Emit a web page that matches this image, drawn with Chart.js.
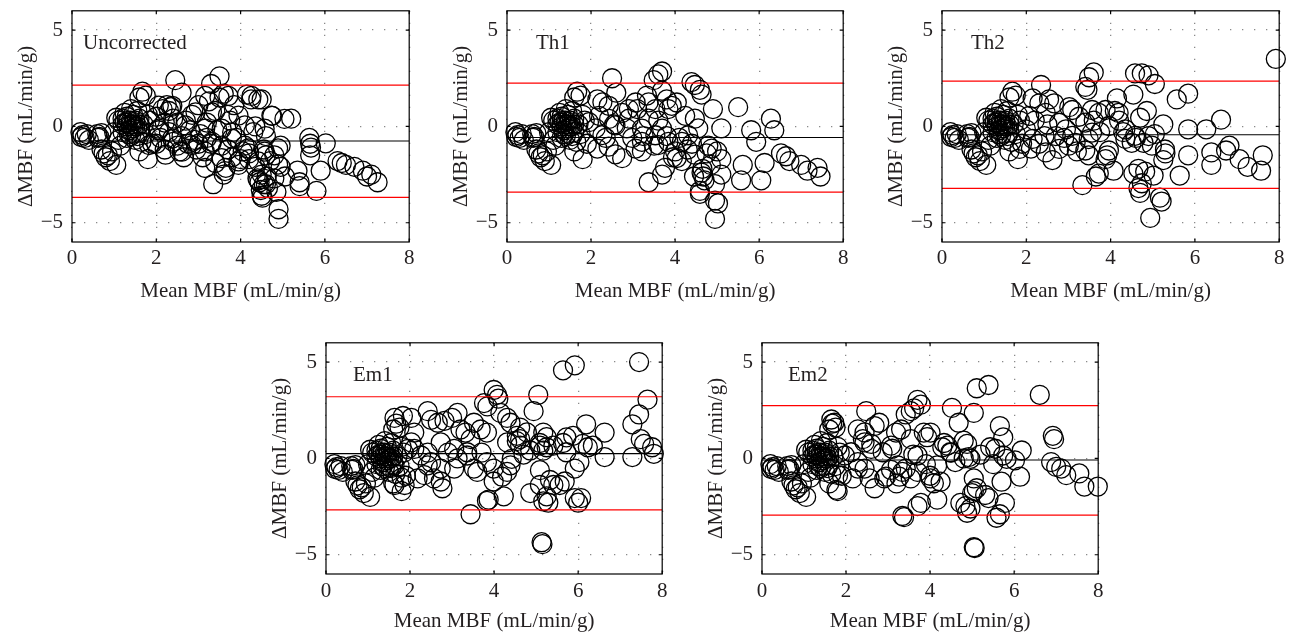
<!DOCTYPE html>
<html><head><meta charset="utf-8">
<script src="https://cdn.jsdelivr.net/npm/chart.js@4.4.1/dist/chart.umd.min.js"></script>
<style>
html,body{margin:0;padding:0;background:#fff;overflow:hidden;width:1293px;height:637px;}
canvas{position:absolute;}
</style></head><body>
<canvas id="c1"></canvas><canvas id="c2"></canvas><canvas id="c3"></canvas><canvas id="c4"></canvas><canvas id="c5"></canvas>
<script>
// ---------- DATA ----------
const xTicks=[0,2,4,6,8];
const yTicks=[-5,0,5];
const xRange=[0,8];
const yRange=[-6,6];
const panelNames=['Uncorrected','Th1','Th2','Em1','Em2'];
const upperLimits=[2.14,2.25,2.35,3.2,2.74];
const meanBias=[-0.76,-0.58,-0.43,0.25,-0.08];
const lowerLimits=[-3.68,-3.41,-3.22,-2.67,-2.94];
const xTitle='Mean MBF (mL/min/g)';
const yTitle='\u0394MBF (mL/min/g)';

// low-flow points (x < 2), nearly the same in every panel
const lowFlow=[[0.2,-0.3],[0.25,-0.45],[0.3,-0.6],[0.35,-0.4],[0.22,-0.55],[0.4,-0.7],
[0.6,-0.4],[0.65,-0.55],[0.7,-0.35],[0.62,-0.6],
[0.7,-1.2],[0.75,-1.4],[0.8,-1.6],[0.85,-1.5],[0.9,-1.8],[1.05,-2.0],[0.95,-1.3],
[1.05,0.45],[1.1,0.3],[1.0,-0.3],[1.1,-0.7],[1.15,-1.0],[1.2,0.1],[1.2,-0.3],
[1.25,0.2],[1.3,0.0],[1.3,0.5],[1.35,-0.2],[1.35,0.3],[1.4,0.1],[1.4,-0.5],[1.45,0.6],[1.45,-0.1],[1.5,0.3],[1.5,-0.7],[1.55,0.0],[1.55,0.8],[1.6,-0.3],[1.6,0.4],[1.65,-0.8],[1.3,-0.6],[1.25,0.7],[1.4,0.9],[1.7,0.1],[1.75,-0.4],[1.8,0.6],[1.85,0.3],
[1.3,0.2],[1.4,0.3],[1.45,0.1],[1.5,0.0],[1.35,-0.4],[1.55,-0.5],[1.2,0.4],[1.6,0.1],
[1.67,1.8],[1.75,1.6],[1.6,1.5],
[1.6,-1.3],[1.8,-1.7],[1.9,-0.9]];

const uncorrected=[[2.0,0.5],[2.05,-0.2],[2.1,-0.6],[2.15,0.9],[2.2,-1.2],[2.25,1.1],[2.3,0.8],[2.35,1.0],[2.4,0.4],[2.45,2.4],[2.3,-0.3],[2.4,-0.8],[2.5,-1.0],[2.5,0.2],[2.55,-1.3],[2.6,1.75],[2.6,-0.5],[2.65,-1.6],[2.7,0.3],[2.75,-0.9],[2.8,-0.2],[2.9,-0.7],[2.85,0.6],[2.95,-1.2],[2.2,0.2],[2.0,-0.9],
[3.0,1.1],[3.05,-0.4],[3.1,-1.6],[3.15,-1.3],[3.2,0.2],[3.25,1.3],[3.3,2.2],[3.3,-0.9],[3.35,-3.0],[3.4,0.8],[3.45,-0.2],[3.5,2.6],[3.5,1.5],[3.55,-1.0],[3.6,-2.5],[3.65,-2.15],[3.6,1.7],[3.7,0.6],[3.7,-1.2],[3.75,0.3],[3.8,-1.6],[3.85,1.1],[3.9,-0.6],[3.95,-2.0],[3.0,-0.9],[3.2,-0.6],[3.4,-1.9],[3.8,-0.3],
[4.05,-1.3],[4.1,-1.0],[4.15,1.65],[4.2,-1.7],[4.25,1.4],[4.3,-0.3],[4.35,-2.1],[4.35,0.0],[4.4,-2.7],[4.45,-2.9],[4.5,1.4],[4.5,-3.6],[4.55,-3.0],[4.55,-1.2],[4.6,-0.5],[4.65,-3.2],[4.7,-1.8],[4.75,0.55],[4.8,-1.5],[4.8,-2.7],[4.85,-3.4],[4.9,-4.3],[4.9,-4.8],[4.95,-1.0],[4.95,-2.1],[4.0,-1.7],[4.2,-1.4],[4.6,-1.5],[4.5,-2.5],[4.42,-2.8],[4.48,-3.3],[4.52,-3.7],[4.6,-3.0],[4.62,-2.6],
[5.2,0.4],[5.35,-2.3],[5.4,-3.1],[5.63,-0.6],[5.65,-0.9],[5.67,-1.1],[5.65,-1.5],[5.8,-3.35],[5.9,-2.3],[6.02,-0.88],[6.3,-1.8],[6.4,-1.9],[6.5,-2.0],[6.7,-2.1],[6.9,-2.3],[7.0,-2.6],[7.1,-2.5],[7.25,-2.9],[5.05,-2.6],[5.4,-2.9],
[2.38,1.07],[2.06,1.08],[3.16,1.58],[3.71,1.58],[4.26,1.58],[4.42,1.4],[4.73,0.56],[5.04,0.39],[2.93,0.73],[3.32,0.73],[3.95,0.56],[2.69,0.05],[3.16,-0.12],[3.55,-0.12],[4.1,0.05],[4.57,-0.12],[2.06,-0.12],[2.38,-0.63],[2.85,-0.97],[3.32,-0.8],[3.79,-0.63],[4.18,-1.14],[4.57,-1.31],[4.89,-1.14],[1.83,-0.97],[2.22,-1.47],[2.61,-1.31],[3.55,-1.65],[3.95,-1.82],[4.42,-1.82],[4.89,-1.98],[3.16,-2.16],[3.63,-2.32]];

const th1=[[3.69,2.85],[3.6,2.7],[2.5,2.5],[3.49,2.4],[4.39,2.3],[4.47,2.15],[4.59,1.9],[4.63,1.65],[2.6,1.75],[3.33,1.6],[3.69,1.85],[3.8,1.4],[3.84,0.9],[3.92,1.07],[4.04,1.24],[4.9,0.9],[5.5,1.0],[6.28,0.4],[6.36,-0.2],[5.81,-0.2],[5.93,-0.8],[5.1,-0.1],[6.52,-1.4],[6.64,-1.55],[6.72,-1.8],[7.0,-2.0],[7.15,-2.3],[7.39,-2.15],[7.46,-2.6],[6.13,-1.9],[5.61,-2.0],[5.57,-2.8],[6.05,-2.8],[5.1,-2.5],[5.1,-1.7],[4.95,-3.0],[4.95,-3.85],[5.02,-4.0],[4.95,-4.8],[4.63,-2.4],[4.67,-2.6],[4.59,-3.35],[4.59,-3.5],[4.65,-2.2],[4.79,-1.0],[4.87,-1.15],[4.75,-1.4],[3.69,-2.5],[3.76,-2.15],[3.37,-2.9],[4.16,-1.8],[4.0,-1.3],[4.3,-1.2],[4.24,0.55],[4.47,0.4],[4.55,-0.1],[3.21,-1.3],[3.06,-1.15],[2.98,-0.6],[3.37,0.4],[3.53,0.9],[3.37,1.25],[2.9,0.4],[2.85,-0.1],[2.27,1.25],[2.15,1.4],[2.42,1.07],[2.19,0.55],[2.11,-0.1],[2.27,-0.45],[2.15,-1.15],[2.42,-1.05],[2.58,-1.45],[2.74,-1.65],[2.74,0.7],[3.6,0.3],[3.8,-0.5],[3.95,-1.6],[4.1,-0.6],[4.4,-0.9],[3.1,0.9],[3.25,-0.5],[2.35,-0.6],[2.55,0.1],[4.85,-2.0],[4.7,-2.8],[5.0,-1.3],[4.45,-2.6],[3.5,-1.0],
[2.9,0.9],[3.21,-0.12],[3.53,-0.46],[3.69,-0.12],[3.84,-0.8],[4.16,-0.8],[4.31,-0.46],[2.58,0.05],[2.43,0.39],[1.95,0.22],[3.06,1.24],[3.6,-0.97],[4.04,-1.64],[4.47,-1.47],[3.21,-0.8]];

const th2=[[7.92,3.5],[3.6,2.8],[3.49,2.55],[2.35,2.15],[3.4,2.05],[3.45,1.9],[4.58,2.75],[4.74,2.75],[4.9,2.65],[5.05,2.2],[4.15,1.45],[4.54,1.65],[5.57,1.4],[5.84,1.7],[4.86,0.8],[4.7,0.45],[5.25,0.1],[5.84,-0.15],[6.27,-0.15],[6.62,0.35],[6.82,-1.0],[6.74,-1.25],[6.39,-1.35],[6.39,-2.0],[7.06,-1.7],[7.25,-2.1],[7.61,-1.5],[7.57,-2.3],[5.84,-1.5],[5.64,-2.55],[5.29,-1.2],[5.3,-1.4],[5.25,-1.75],[5.17,-3.7],[5.21,-3.9],[4.94,-4.75],[5.02,-2.55],[4.82,-2.35],[4.66,-3.2],[4.7,-3.45],[4.74,-2.95],[4.54,-2.45],[4.66,-2.2],[4.78,-0.85],[4.9,-0.5],[5.05,-0.4],[4.35,-0.65],[4.5,-0.85],[3.96,-1.25],[3.92,-1.5],[3.88,-1.7],[4.07,-2.3],[3.72,-2.45],[3.65,-2.6],[3.33,-3.05],[3.4,-1.25],[3.48,-1.5],[3.72,0.7],[3.56,0.85],[3.88,0.85],[3.25,0.5],[3.4,0.2],[3.09,0.85],[3.02,1.0],[3.01,-1.0],[3.17,-0.85],[2.9,-0.6],[2.94,-0.15],[2.54,1.4],[2.66,1.2],[2.15,1.45],[2.31,1.2],[2.07,0.55],[2.2,0.3],[2.15,-0.65],[2.11,-1.15],[2.46,-1.35],[2.62,-1.75],[2.43,-0.5],[2.7,-0.5],[3.6,0.3],[3.75,-0.3],[4.2,0.3],[4.3,-0.3],[4.6,-0.6],[2.3,-0.9],[2.5,0.1],[3.2,-1.3],[4.1,0.8],
[2.78,0.19],[3.09,-0.49],[3.56,-0.32],[3.96,0.02],[4.35,-0.15],[2.46,0.7],[1.99,-0.15],[3.48,-0.66],[4.19,0.7],[4.58,-0.49],[2.78,-1.17],[1.84,-1.17],[4.98,-1.0]];

const em1=[[7.45,5.0],[5.64,4.57],[5.92,4.83],[3.99,3.55],[4.07,3.3],[4.1,3.1],[5.05,3.3],[7.65,3.05],[3.76,2.87],[3.84,2.7],[4.94,2.45],[7.45,2.28],[7.29,1.77],[2.42,2.45],[2.5,2.0],[3.13,2.36],[3.0,2.1],[1.63,2.1],[1.83,2.2],[2.03,2.1],[2.66,1.85],[2.82,1.95],[4.15,2.36],[4.31,2.1],[4.39,1.85],[4.62,1.6],[4.78,1.35],[3.52,1.85],[3.68,1.5],[6.19,1.77],[6.63,1.34],[5.88,1.17],[5.72,1.09],[5.64,0.8],[5.17,1.34],[5.25,1.1],[5.09,0.8],[7.49,1.0],[7.57,0.75],[7.76,0.58],[7.8,0.24],[7.29,0.07],[6.63,0.07],[6.11,0.75],[6.23,0.58],[6.35,0.66],[6.03,-0.19],[5.92,-0.53],[5.72,0.32],[5.41,0.66],[5.25,0.58],[5.09,0.66],[5.17,0.4],[4.54,1.17],[4.54,0.9],[4.62,1.0],[4.86,0.41],[4.42,-0.02],[4.39,-0.36],[4.31,-0.7],[4.19,-0.95],[3.99,-0.53],[3.99,-1.2],[4.23,-1.97],[3.87,-2.14],[3.83,-2.2],[3.44,-2.9],[5.09,-0.61],[5.09,-1.38],[5.25,-1.97],[5.17,-2.23],[5.29,-2.3],[5.33,-1.12],[5.41,-1.38],[5.56,-1.38],[5.68,-1.2],[5.13,-4.35],[5.15,-4.45],[4.86,-1.8],[5.92,-2.06],[6.07,-2.06],[6.0,-2.3],[3.52,-0.53],[3.6,-0.7],[3.36,0.32],[3.05,0.49],[3.13,0.0],[3.44,1.0],[3.32,1.34],[2.73,-0.53],[2.73,-1.2],[2.57,-1.04],[2.77,-1.55],[2.34,-0.87],[2.18,-1.04],[2.26,0.15],[2.42,0.3],[2.5,-0.2],[2.03,0.83],[2.1,1.34],[1.87,-1.38],[1.63,-1.38],[1.8,-1.0],[2.9,0.3],[3.7,0.3],[4.7,0.2],
[2.1,0.49],[2.73,0.83],[3.2,1.5],[3.83,1.34],[3.36,0.15],[3.05,-0.53],[3.83,-0.19],[4.31,0.83],[2.42,-0.36],[1.63,-0.36],[1.95,0.49],[4.62,0.66]];

const em2=[[5.39,3.81],[5.11,3.64],[6.61,3.3],[3.7,3.04],[3.78,2.79],[3.62,2.6],[3.54,2.45],[3.42,2.28],[2.48,2.45],[4.52,2.62],[5.04,2.36],[4.68,1.85],[1.65,2.02],[1.72,1.85],[2.79,1.85],[2.68,1.68],[2.28,1.51],[2.44,1.35],[5.66,1.68],[5.74,1.09],[6.92,1.17],[6.95,1.0],[3.19,1.34],[3.31,1.5],[3.85,1.34],[3.93,1.1],[4.01,1.34],[4.29,0.58],[4.41,0.66],[4.33,0.8],[4.8,0.92],[4.88,0.75],[5.43,0.58],[5.55,0.5],[6.18,0.41],[6.02,-0.1],[5.74,0.15],[5.82,-0.02],[4.92,0.07],[4.96,-0.02],[4.8,0.0],[4.6,-0.19],[5.04,-1.04],[5.11,-1.55],[5.0,-1.8],[5.04,-1.7],[4.72,-2.31],[4.84,-2.48],[4.88,-2.82],[4.96,-2.6],[5.39,-2.06],[5.31,-1.9],[5.58,-3.08],[5.66,-2.9],[5.78,-2.31],[5.7,-1.21],[6.14,-0.95],[3.78,-2.31],[3.7,-2.48],[3.34,-2.99],[3.38,-3.05],[4.17,-2.14],[4.09,-1.29],[4.25,-1.21],[3.7,-0.7],[3.54,-1.04],[3.34,-0.7],[3.27,-0.95],[3.42,-0.53],[2.95,-0.95],[3.07,-0.6],[2.87,0.32],[2.6,0.75],[2.12,0.32],[2.28,-0.19],[2.44,-0.53],[2.56,-1.04],[2.68,-1.55],[2.16,-1.04],[1.81,-0.87],[1.77,-1.63],[6.88,-0.19],[7.0,-0.44],[7.12,-0.53],[7.24,-0.87],[7.55,-0.78],[7.67,-1.46],[7.99,-1.46],[5.04,-4.61],[5.06,-4.65],[3.1,0.5],[3.6,0.2],[3.9,-0.3],[4.5,0.3],[5.2,0.2],[5.5,-0.3],[2.4,1.0],[3.2,-1.3],[4.0,-0.9],
[1.97,0.15],[2.6,0.49],[3.07,0.66],[3.54,1.0],[3.23,-0.36],[4.17,-0.36],[4.48,0.32],[3.7,0.15],[2.28,-0.53],[2.91,-1.04],[4.01,-1.04],[2.44,0.83]];

const panelSeries=[uncorrected,th1,th2,em1,em2];

// ---------- LAYOUT / STYLE ----------
const FONT="'Liberation Serif','DejaVu Serif','Times New Roman',serif";
const TEXT='#231f20';
const geom=[
 {left:0,  top:0,  w:420,h:310,xh:68,tb:6,  tp:3.7,dx:11},
 {left:435,top:0,  w:419,h:310,xh:68,tb:6,  tp:3.7,dx:29},
 {left:870,top:0,  w:420,h:310,xh:68,tb:6,  tp:3.7,dx:29},
 {left:254,top:332,w:419,h:305,xh:63,tb:2.7,tp:5,  dx:27},
 {left:690,top:332,w:419,h:305,xh:63,tb:2.7,tp:5,  dx:26}
];

Chart.defaults.font.family=FONT;
Chart.defaults.font.size=21;
Chart.defaults.color=TEXT;

const fmt=v=>v<0?'\u2212'+Math.abs(v):String(v);
const noPad=s=>{s.paddingTop=0;s.paddingBottom=0;s.paddingLeft=0;s.paddingRight=0;};

const framePlugin={
 id:'frame',
 afterDraw(chart,args,opts){
  const {ctx,chartArea:a,scales:{x,y}}=chart;
  ctx.save();
  ctx.strokeStyle='#000';ctx.lineWidth=1.2;ctx.setLineDash([]);
  ctx.strokeRect(a.left,a.top,a.right-a.left,a.bottom-a.top);
  ctx.beginPath();
  xTicks.forEach(v=>{const p=x.getPixelForValue(v);
    ctx.moveTo(p,a.bottom);ctx.lineTo(p,a.bottom-3.5);
    ctx.moveTo(p,a.top);ctx.lineTo(p,a.top+3.5);});
  yTicks.forEach(v=>{const p=y.getPixelForValue(v);
    ctx.moveTo(a.left,p);ctx.lineTo(a.left+3.5,p);
    ctx.moveTo(a.right,p);ctx.lineTo(a.right-3.5,p);});
  ctx.stroke();
  ctx.fillStyle=TEXT;
  ctx.font='21px '+FONT;
  ctx.textAlign='left';ctx.textBaseline='middle';
  ctx.fillText(opts.label,a.left+opts.dx,a.top+33);
  ctx.restore();
 }
};

function makePanel(i){
 const g=geom[i];
 const cv=document.getElementById('c'+(i+1));
 cv.width=g.w;cv.height=g.h;
 cv.style.left=g.left+'px';cv.style.top=g.top+'px';
 cv.style.width=g.w+'px';cv.style.height=g.h+'px';
 const pts=lowFlow.concat(panelSeries[i]).map(([x,y])=>({x,y}));
 const hline=(val)=>[{x:xRange[0],y:val},{x:xRange[1],y:val}];
 new Chart(cv,{
  type:'scatter',
  data:{datasets:[
   {data:pts,pointRadius:9.5,pointHoverRadius:9.5,pointBorderWidth:1.3,pointBorderColor:'#000',pointBackgroundColor:'rgba(0,0,0,0)',showLine:false,clip:false,order:3},
   {data:hline(upperLimits[i]),showLine:true,borderColor:'#ff0000',borderWidth:1.2,pointRadius:0,order:1},
   {data:hline(lowerLimits[i]),showLine:true,borderColor:'#ff0000',borderWidth:1.2,pointRadius:0,order:1},
   {data:hline(meanBias[i]),showLine:true,borderColor:'#000',borderWidth:1.1,pointRadius:0,order:2}
  ]},
  options:{
   responsive:false,animation:false,events:[],devicePixelRatio:1,
   layout:{padding:{top:7,right:8,left:0,bottom:0}},
   plugins:{legend:{display:false},tooltip:{enabled:false},frame:{label:panelNames[i],dx:g.dx}},
   scales:{
    x:{type:'linear',min:xRange[0],max:xRange[1],
      afterBuildTicks:s=>{s.ticks=xTicks.map(v=>({value:v}));},
      afterFit:s=>{s.height=g.xh;noPad(s);},
      grid:{color:'#8a8a8a',lineWidth:1.3,drawTicks:false},
      border:{display:false,dash:[1.3,10.7]},
      ticks:{padding:g.tp,color:TEXT,maxRotation:0,autoSkip:false,callback:v=>fmt(v)},
      title:{display:true,text:xTitle,color:TEXT,padding:{top:0,bottom:g.tb}}},
    y:{type:'linear',min:yRange[0],max:yRange[1],
      afterBuildTicks:s=>{s.ticks=yTicks.map(v=>({value:v}));},
      afterFit:s=>{s.width=72;noPad(s);},
      grid:{color:'#8a8a8a',lineWidth:1.3,drawTicks:false},
      border:{display:false,dash:[1.3,10.7]},
      ticks:{padding:9,color:TEXT,autoSkip:false,callback:v=>fmt(v)},
      title:{display:true,text:yTitle,color:TEXT,padding:{top:14,bottom:0}}}
   }
  },
  plugins:[framePlugin]
 });
}
for(let i=0;i<5;i++) makePanel(i);
</script>
</body></html>
